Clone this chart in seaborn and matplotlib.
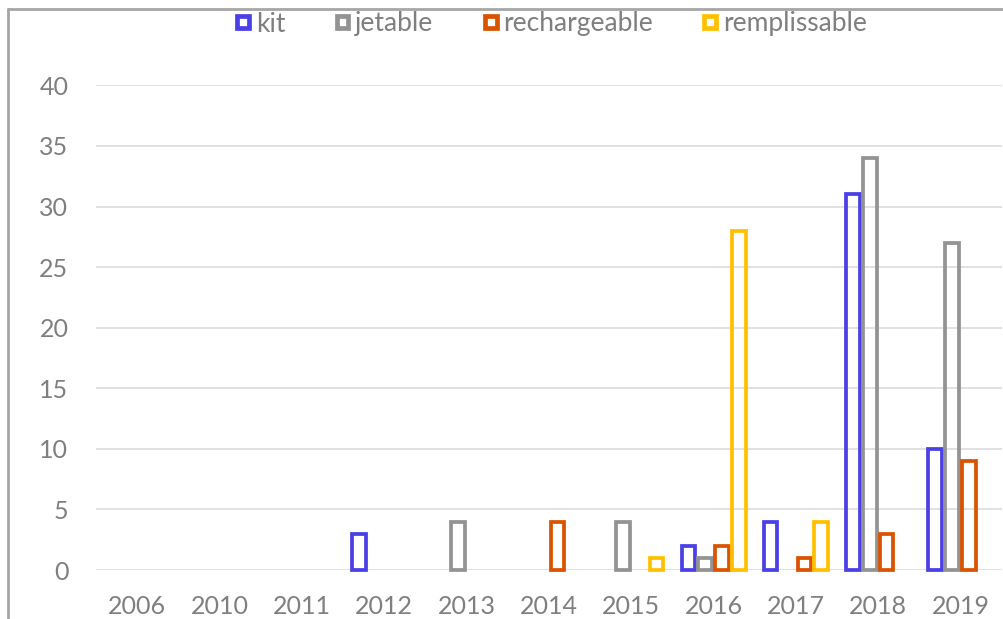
import numpy as np
import pandas as pd
import matplotlib
matplotlib.use("Agg")
import matplotlib.pyplot as plt
from matplotlib.lines import Line2D
import seaborn as sns

years = ["2006", "2010", "2011", "2012", "2013", "2014", "2015", "2016", "2017", "2018", "2019"]
series_names = ["kit", "jetable", "rechargeable", "remplissable"]
kit = [np.nan, np.nan, np.nan, 3, np.nan, np.nan, np.nan, 2, 4, 31, 10]
jetable = [np.nan, np.nan, np.nan, np.nan, 4, np.nan, 4, 1, np.nan, 34, 27]
rechargeable = [np.nan, np.nan, np.nan, np.nan, np.nan, 4, np.nan, 2, 1, 3, 9]
remplissable = [np.nan, np.nan, np.nan, np.nan, np.nan, np.nan, 1, 28, 4, np.nan, np.nan]
colors = ["#4a40e6", "#939393", "#d95300", "#ffc000"]
yticks = [0, 5, 10, 15, 20, 25, 30, 35, 40]

rows = []
for name, vals in zip(series_names, [kit, jetable, rechargeable, remplissable]):
    for y, v in zip(years, vals):
        rows.append({"year": y, "type": name, "value": v})
df = pd.DataFrame(rows)

sns.set_style("white")
plt.rcParams["font.family"] = ["Lato", "DejaVu Sans"]
text_color = "#7f7f7f"

fig = plt.figure(figsize=(10.04, 6.19), dpi=100)
ax = fig.add_axes([96.2 / 1004, (619 - 570) / 619, (1001.7 - 96.2) / 1004, (570 - 85.4) / 619])

sns.barplot(data=df, x="year", y="value", hue="type", order=years, hue_order=series_names,
            palette=colors, fill=False, width=0.82, gap=0.2, linewidth=2.7,
            errorbar=None, ax=ax, legend=True)

for p in ax.patches:
    p.set_clip_on(False)

ax.set_ylim(0, 40)
ax.set_yticks(yticks)
ax.set_xlim(-0.5, len(years) - 0.5)
ax.grid(axis="y", color="#d9d9d9", linewidth=1.1)
ax.set_axisbelow(True)
for s in ax.spines.values():
    s.set_visible(False)
ax.set_xlabel("")
ax.set_ylabel("")
ax.tick_params(axis="y", length=0, pad=20, labelsize=18, labelcolor=text_color)
ax.tick_params(axis="x", length=0, pad=18, labelsize=18, labelcolor=text_color)

handles, labels = ax.get_legend_handles_labels()
ax.get_legend().remove()
leg = fig.legend(handles, labels, loc="center", bbox_to_anchor=(552 / 1004, 1 - 24 / 619),
                 ncol=4, frameon=False, fontsize=19, handlelength=0.45, handleheight=0.3,
                 handletextpad=0.25, columnspacing=1.95, labelcolor=text_color,
                 borderaxespad=0, borderpad=0)
for h in leg.legend_handles:
    h.set_linewidth(3.4)

fig.add_artist(Line2D([8 / 1004, 1.0], [1 - 9 / 619, 1 - 9 / 619], transform=fig.transFigure,
                      color="#a6a6a6", linewidth=2))
fig.add_artist(Line2D([8 / 1004, 8 / 1004], [0, 1 - 9 / 619], transform=fig.transFigure,
                      color="#a6a6a6", linewidth=2))

fig.savefig("out.png", dpi=100)
